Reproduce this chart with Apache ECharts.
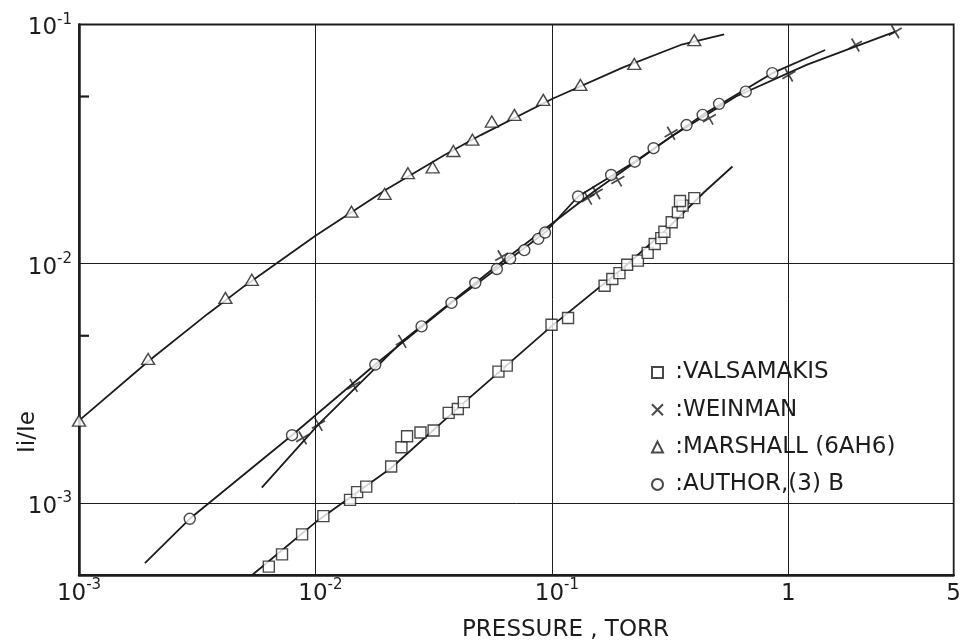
<!DOCTYPE html>
<html><head><meta charset="utf-8">
<script src="https://cdn.jsdelivr.net/npm/echarts@6/dist/echarts.min.js"></script>
<style>html,body{margin:0;padding:0;background:#fff}#c{width:964px;height:644px}</style>
</head><body><div id="c"></div>
<script>
// ---- data (pressure in Torr, ratio Ii/Ie) ----
const valsamakisP = [0.00635, 0.00722, 0.00878, 0.0108, 0.0140, 0.0150, 0.0164, 0.0209, 0.0231, 0.0244, 0.0278, 0.0316, 0.0366, 0.0400, 0.0424, 0.0594, 0.0644, 0.0996, 0.117, 0.167, 0.180, 0.193, 0.208, 0.231, 0.254, 0.272, 0.290, 0.299, 0.321, 0.341, 0.357, 0.348, 0.400];
const valsamakisR = [0.000542, 0.00061, 0.000739, 0.000881, 0.00103, 0.00111, 0.00117, 0.00142, 0.00171, 0.00190, 0.00197, 0.00201, 0.00238, 0.00247, 0.00264, 0.00354, 0.00375, 0.00556, 0.00593, 0.00809, 0.00863, 0.00914, 0.0099, 0.0103, 0.0111, 0.0121, 0.0128, 0.0136, 0.0149, 0.0164, 0.0175, 0.0183, 0.0188];

const weinmanP = [0.00883, 0.0103, 0.0145, 0.0233, 0.0613, 0.142, 0.154, 0.190, 0.319, 0.463, 1.005, 1.92, 2.83];
const weinmanR = [0.00187, 0.00213, 0.0031, 0.00474, 0.0107, 0.0188, 0.0198, 0.0224, 0.0351, 0.0406, 0.0615, 0.0821, 0.0933];

const marshallP = [0.001, 0.00196, 0.00416, 0.00538, 0.0142, 0.0196, 0.0246, 0.0313, 0.0383, 0.0461, 0.0557, 0.0694, 0.0919, 0.132, 0.223, 0.400];
const marshallR = [0.00221, 0.0040, 0.0072, 0.00857, 0.0165, 0.0196, 0.0239, 0.0253, 0.0296, 0.0330, 0.0393, 0.0419, 0.0484, 0.0559, 0.0684, 0.086];

const authorP = [0.00294, 0.00796, 0.0179, 0.0281, 0.0376, 0.0474, 0.0585, 0.0666, 0.0764, 0.0875, 0.0935, 0.129, 0.178, 0.224, 0.269, 0.371, 0.434, 0.509, 0.660, 0.855];
const authorR = [0.000859, 0.00192, 0.00379, 0.00547, 0.00686, 0.00831, 0.0095, 0.0105, 0.0114, 0.0127, 0.0135, 0.0191, 0.0235, 0.0267, 0.0304, 0.0380, 0.0419, 0.0466, 0.0524, 0.0626];

// fitted curves traced through each data set
const valsCurveP = [0.0054, 0.01, 0.0209, 0.042, 0.1, 0.2, 0.3, 0.44, 0.58];
const valsCurveR = [0.0005, 0.00083, 0.00140, 0.0026, 0.0055, 0.0096, 0.0137, 0.0199, 0.0255];
const weinCurveP = [0.00593, 0.0103, 0.0233, 0.06, 0.15, 0.32, 0.6, 1.2, 2.83];
const weinCurveR = [0.00116, 0.00213, 0.00474, 0.0100, 0.0200, 0.0340, 0.0500, 0.0680, 0.0933];
const marsCurveP = [0.001, 0.002, 0.0035, 0.005, 0.01, 0.02, 0.035, 0.05, 0.1, 0.2, 0.35, 0.535];
const marsCurveR = [0.00221, 0.00397, 0.00617, 0.00806, 0.0131, 0.0205, 0.0284, 0.0345, 0.0488, 0.0662, 0.0821, 0.091];
const authCurveP = [0.0019, 0.00294, 0.00796, 0.0179, 0.0376, 0.0935, 0.129, 0.224, 0.434, 0.855, 1.43];
const authCurveR = [0.00056, 0.000859, 0.00192, 0.00379, 0.00686, 0.0135, 0.0191, 0.0267, 0.0419, 0.0626, 0.0782];

// axis ticks
const xMin = 0.001, xMax = 5;
const yMin = 0.0005, yMax = 0.1;
const yMinorTicks = [0.005, 0.05];

const seriesNames = ['VALSAMAKIS', 'WEINMAN', 'MARSHALL (6AH6)', 'AUTHOR,(3) B'];
const xTitle = 'PRESSURE , TORR';
const yTitle = 'Ii/Ie';

// ---- chart ----
const FONT = 'DejaVu Sans';
const INK = '#1c1c1c';
const CROSS = 'path://M0,5L10,5M5,0L5,10';
const XMARK = 'path://M0,0L10,10M10,0L0,10';
function pairs(a, b) { return a.map((v, i) => [v, b[i]]); }
function powLabel(v, isX) {
  const e = Math.log10(v);
  const r = Math.round(e);
  if (Math.abs(e - r) > 1e-6) return isX ? '{b|' + (+v.toPrecision(6)) + '}' : '';
  if (r === 0) return '{b|1}';
  return (isX && v > xMin * 1.01 ? '{sp|}' : '') + '{b|10}{s|' + r + '}';
}
const rich = {
  b: { fontSize: 23, lineHeight: 32, fontFamily: FONT, color: INK },
  s: { fontSize: 15, lineHeight: 15, padding: [0, 0, 17, 0], fontFamily: FONT, color: INK },
  sp: { width: 10 }
};
const markerStyle = { color: '#fff', borderColor: INK, borderWidth: 1.4 };
function curve(p, r) {
  return { type: 'line', data: pairs(p, r), symbol: 'none', smooth: false,
    lineStyle: { color: INK, width: 1.8, join: 'round' }, z: 2, silent: true, clip: true };
}
function marks(name, p, r, symbol, size, rot, bw) {
  return { type: 'scatter', name, data: pairs(p, r), symbol, symbolSize: size, symbolRotate: rot || 0,
    itemStyle: Object.assign({}, markerStyle, bw ? { borderWidth: bw } : {}), z: 4, clip: false, silent: true };
}

const chart = echarts.init(document.getElementById('c'));
chart.setOption({
  animation: false,
  backgroundColor: '#fff',
  grid: { left: 79, right: 8, top: 24.5, bottom: 69, show: true, borderColor: INK, borderWidth: 1.8, containLabel: false },
  title: { text: xTitle, left: 457, top: 614, textStyle: { fontFamily: FONT, fontSize: 23, fontWeight: 'normal', color: INK } },
  legend: {
    orient: 'vertical', left: 646, top: 356, itemWidth: 11, itemHeight: 11, itemGap: 14.3, selectedMode: false,
    formatter: n => ' :' + n,
    textStyle: { fontFamily: FONT, fontSize: 23, lineHeight: 23, color: INK },
    data: [
      { name: seriesNames[0], icon: 'rect' },
      { name: seriesNames[1], icon: XMARK },
      { name: seriesNames[2], icon: 'triangle' },
      { name: seriesNames[3], icon: 'circle' }
    ]
  },
  xAxis: {
    type: 'log', logBase: 10, min: xMin, max: xMax,
    axisLine: { show: true, lineStyle: { color: INK, width: 2.5 } },
    axisTick: { show: false },
    splitLine: { show: true, lineStyle: { color: INK, width: 1 } },
    axisLabel: { margin: 3, formatter: v => powLabel(v, true), rich }
  },
  yAxis: {
    type: 'log', logBase: 10, min: yMin, max: yMax,
    axisLine: { show: true, lineStyle: { color: INK, width: 2.5 } },
    axisTick: { show: false },
    splitLine: { show: true, lineStyle: { color: INK, width: 1 } },
    axisLabel: { margin: 7, padding: [8, 0, 0, 0], formatter: v => powLabel(v, false), rich }
  },
  series: [
    curve(valsCurveP, valsCurveR),
    curve(weinCurveP, weinCurveR),
    curve(marsCurveP, marsCurveR),
    curve(authCurveP, authCurveR),
    marks(seriesNames[0], valsamakisP, valsamakisR, 'rect', 11),
    marks(seriesNames[1], weinmanP, weinmanR, CROSS, 15, 30, 1.7),
    marks(seriesNames[2], marshallP, marshallR, 'triangle', [13, 11]),
    marks(seriesNames[3], authorP, authorR, 'circle', 11)
  ]
});

// minor inward ticks on the y axis and the rotated y-axis title
const gx = chart.convertToPixel({ xAxisIndex: 0 }, xMin);
const graphics = yMinorTicks.map(v => {
  const y = chart.convertToPixel({ yAxisIndex: 0 }, v);
  return { type: 'line', shape: { x1: gx, y1: y, x2: gx + 10, y2: y }, style: { stroke: INK, lineWidth: 2.2 }, z: 10 };
});
graphics.push({ type: 'text', x: 28, y: 432, rotation: Math.PI / 2,
  style: { text: yTitle, fontFamily: FONT, fontSize: 23, fill: INK, align: 'center', verticalAlign: 'middle' } });
chart.setOption({ graphic: graphics });
</script>
</body></html>
